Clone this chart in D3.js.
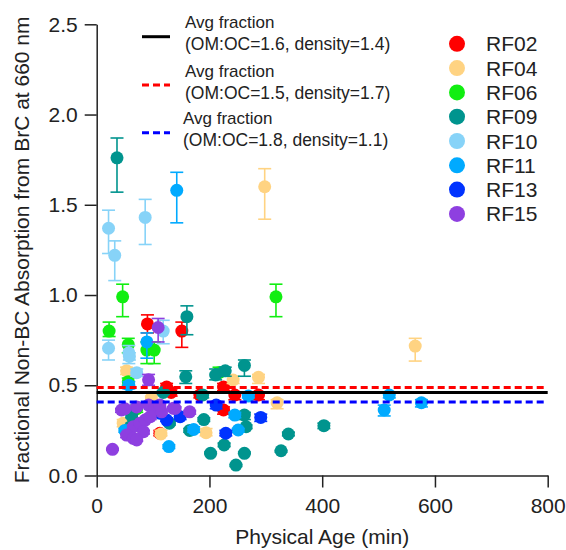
<!DOCTYPE html>
<html>
<head>
<meta charset="utf-8">
<script src="https://cdn.jsdelivr.net/npm/d3@7"></script>
<style>
  html, body { margin: 0; padding: 0; background: #fff; }
  text { font-family: "Liberation Sans", Arial, sans-serif; }
</style>
</head>
<body>
<div id="chart"></div>
<script>
// series names and colours
const flights = ["RF02", "RF04", "RF06", "RF09", "RF10", "RF11", "RF13", "RF15"];
const flightColors = ["#ff0000", "#ffd382", "#11ee11", "#00948e", "#87d3f8", "#00aaff", "#0033ff", "#8e3fe0"];

// [physical age (min), fraction, error low, error high]
const rf02 = [
  [90, 0.84, 0.79, 0.89], [151, 0.80, 0.71, 0.85], [124, 0.49, 0.47, 0.51],
  [132, 0.46, 0.44, 0.48], [183, 0.446, 0.43, 0.46], [225, 0.49, 0.47, 0.51],
  [245, 0.446, 0.42, 0.46], [287, 0.446, 0.42, 0.46], [225, 0.363, 0.34, 0.38],
  [112, 0.234, 0.22, 0.25]
];
const rf04 = [
  [298, 1.60, 1.42, 1.70], [565, 0.717, 0.634, 0.76], [287, 0.544, 0.51, 0.56],
  [242, 0.529, 0.51, 0.55], [320, 0.403, 0.37, 0.42], [194, 0.237, 0.22, 0.26],
  [53, 0.58, 0.56, 0.60], [47, 0.29, 0.27, 0.31], [114, 0.23, 0.22, 0.25],
  [97, 0.43, 0.41, 0.44]
];
const rf06 = [
  [46, 0.99, 0.88, 1.06], [22, 0.80, 0.77, 0.85], [56, 0.725, 0.68, 0.76],
  [89, 0.695, 0.62, 0.74], [102, 0.695, 0.62, 0.74], [318, 0.99, 0.88, 1.06],
  [56, 0.52, 0.50, 0.54], [71, 0.37, 0.35, 0.39], [217, 0.57, 0.55, 0.60]
];
const rf09 = [
  [36, 1.76, 1.57, 1.87], [160, 0.88, 0.78, 0.94], [158, 0.547, 0.51, 0.58],
  [188, 0.446, 0.43, 0.46], [190, 0.31, 0.30, 0.32], [211, 0.557, 0.53, 0.59],
  [228, 0.58, 0.55, 0.60], [262, 0.61, 0.55, 0.64], [262, 0.335, 0.31, 0.35],
  [265, 0.27, 0.26, 0.28], [340, 0.23, 0.22, 0.24], [403, 0.276, 0.26, 0.29],
  [327, 0.137, 0.13, 0.14], [202, 0.123, 0.12, 0.13], [226, 0.169, 0.16, 0.18],
  [262, 0.123, 0.12, 0.13], [247, 0.058, 0.05, 0.06], [129, 0.29, 0.28, 0.30],
  [165, 0.25, 0.24, 0.26], [118, 0.46, 0.45, 0.47], [62, 0.33, 0.32, 0.34],
  [60, 0.27, 0.26, 0.28]
];
const rf10 = [
  [21, 1.37, 1.23, 1.47], [32, 1.22, 1.08, 1.30], [86, 1.43, 1.28, 1.53],
  [21, 0.705, 0.64, 0.75], [57, 0.68, 0.62, 0.72], [58, 0.66, 0.64, 0.68],
  [71, 0.57, 0.55, 0.59], [118, 0.80, 0.73, 0.86]
];
const rf11 = [
  [142, 1.58, 1.40, 1.68], [89, 0.74, 0.65, 0.79], [57, 0.50, 0.48, 0.52],
  [50, 0.25, 0.24, 0.26], [128, 0.16, 0.15, 0.17], [172, 0.255, 0.24, 0.27],
  [245, 0.335, 0.32, 0.35], [251, 0.252, 0.24, 0.26], [269, 0.44, 0.43, 0.45],
  [519, 0.446, 0.43, 0.46], [510, 0.363, 0.33, 0.39], [576, 0.403, 0.38, 0.42]
];
const rf13 = [
  [212, 0.39, 0.37, 0.41], [229, 0.234, 0.22, 0.25], [291, 0.322, 0.30, 0.34],
  [112, 0.345, 0.33, 0.36], [148, 0.326, 0.31, 0.34], [124, 0.307, 0.30, 0.32]
];
const rf15 = [
  [109, 0.82, 0.74, 0.87], [92, 0.53, 0.50, 0.56], [28, 0.145, 0.14, 0.15],
  [44, 0.363, 0.35, 0.37], [71, 0.38, 0.37, 0.39], [92, 0.39, 0.38, 0.40],
  [103, 0.372, 0.36, 0.38], [136, 0.372, 0.36, 0.38], [165, 0.353, 0.34, 0.36],
  [65, 0.27, 0.26, 0.28], [77, 0.29, 0.28, 0.30], [86, 0.307, 0.30, 0.32],
  [95, 0.326, 0.31, 0.34], [53, 0.224, 0.21, 0.23], [65, 0.206, 0.20, 0.21],
  [115, 0.353, 0.34, 0.36], [83, 0.243, 0.23, 0.25], [50, 0.37, 0.36, 0.38],
  [71, 0.197, 0.19, 0.21], [112, 0.39, 0.38, 0.40], [139, 0.372, 0.36, 0.38]
];
const seriesData = [rf02, rf04, rf06, rf09, rf10, rf11, rf13, rf15];

// average fraction lines
const avgLabels = ["(OM:OC=1.6, density=1.4)", "(OM:OC=1.5, density=1.7)", "(OM:OC=1.8, density=1.1)"];
const avgValues = [0.46, 0.488, 0.407];
const avgColors = ["#000000", "#ff0000", "#0000ff"];

// ticks
const xTicks = [0, 200, 400, 600, 800];
const yTicks = [0, 0.5, 1.0, 1.5, 2.0, 2.5];

const width = 566, height = 550;
const margin = { top: 24.3, right: 18.3, bottom: 74.5, left: 96.7 };

const svg = d3.select("#chart").append("svg")
  .attr("width", width)
  .attr("height", height)
  .attr("viewBox", `0 0 ${width} ${height}`);

const x = d3.scaleLinear().domain([0, 800]).range([margin.left, width - margin.right]);
const y = d3.scaleLinear().domain([0, 2.5]).range([height - margin.bottom, margin.top]);

// axes
const xAxis = svg.append("g")
  .attr("transform", `translate(0,${y(0)})`)
  .call(d3.axisBottom(x).tickValues(xTicks).tickSize(12).tickSizeOuter(0).tickPadding(11));
const yAxis = svg.append("g")
  .attr("transform", `translate(${x(0)},0)`)
  .call(d3.axisLeft(y).tickValues(yTicks).tickFormat(d3.format(".1f")).tickSize(12).tickSizeOuter(0).tickPadding(7));

[xAxis, yAxis].forEach(ax => {
  ax.selectAll("path, line").attr("stroke", "#222").attr("stroke-width", 1.5);
  ax.selectAll("text").attr("font-size", 21).attr("fill", "#222")
    .attr("font-family", "'Liberation Sans', Arial, sans-serif");
});

// axis titles
svg.append("text")
  .attr("x", (x(0) + x(800)) / 2)
  .attr("y", 544)
  .attr("text-anchor", "middle")
  .attr("font-size", 21)
  .attr("fill", "#222")
  .text("Physical Age (min)");

svg.append("text")
  .attr("transform", `translate(29,${(y(0) + y(2.5)) / 2}) rotate(-90)`)
  .attr("text-anchor", "middle")
  .attr("font-size", 21)
  .attr("fill", "#222")
  .text("Fractional Non-BC Absorption from BrC at 660 nm");

// points with error bars
const capW = 6.5;
seriesData.forEach((rows, i) => {
  const col = flightColors[i];
  const g = svg.append("g");
  rows.forEach(d => {
    const cx = x(d[0]);
    g.append("line")
      .attr("x1", cx).attr("x2", cx)
      .attr("y1", y(d[2])).attr("y2", y(d[3]))
      .attr("stroke", col).attr("stroke-width", 1.6);
    [d[2], d[3]].forEach(v => {
      g.append("line")
        .attr("x1", cx - capW).attr("x2", cx + capW)
        .attr("y1", y(v)).attr("y2", y(v))
        .attr("stroke", col).attr("stroke-width", 1.6);
    });
    g.append("circle")
      .attr("cx", cx).attr("cy", y(d[1]))
      .attr("r", 6.5)
      .attr("fill", col);
  });
});

// average lines on top
avgValues.forEach((v, i) => {
  svg.append("line")
    .attr("x1", x(0)).attr("x2", x(800))
    .attr("y1", y(v)).attr("y2", y(v))
    .attr("stroke", avgColors[i])
    .attr("stroke-width", 3)
    .attr("stroke-dasharray", i === 0 ? null : "7,4");
});

// legend for average lines
const avgLegY = [36.7, 85, 132.7];
avgLabels.forEach((lab, i) => {
  svg.append("line")
    .attr("x1", 142).attr("x2", 170)
    .attr("y1", avgLegY[i]).attr("y2", avgLegY[i])
    .attr("stroke", avgColors[i])
    .attr("stroke-width", 3)
    .attr("stroke-dasharray", i === 0 ? null : "7,4");
  const tx = i === 2 ? 183 : 185;
  svg.append("text")
    .attr("x", tx).attr("y", avgLegY[i] - 8.5)
    .attr("font-size", 17).attr("fill", "#222")
    .text("Avg fraction");
  svg.append("text")
    .attr("x", tx).attr("y", avgLegY[i] + 13.5)
    .attr("font-size", 17.5).attr("fill", "#222")
    .text(lab);
});

// legend for flights
flights.forEach((f, i) => {
  const ly = 43.8 + i * 24.3;
  svg.append("circle")
    .attr("cx", 457).attr("cy", ly).attr("r", 8)
    .attr("fill", flightColors[i]);
  svg.append("text")
    .attr("x", 486).attr("y", ly + 7.5)
    .attr("font-size", 21).attr("fill", "#222")
    .text(f);
});
</script>
</body>
</html>
